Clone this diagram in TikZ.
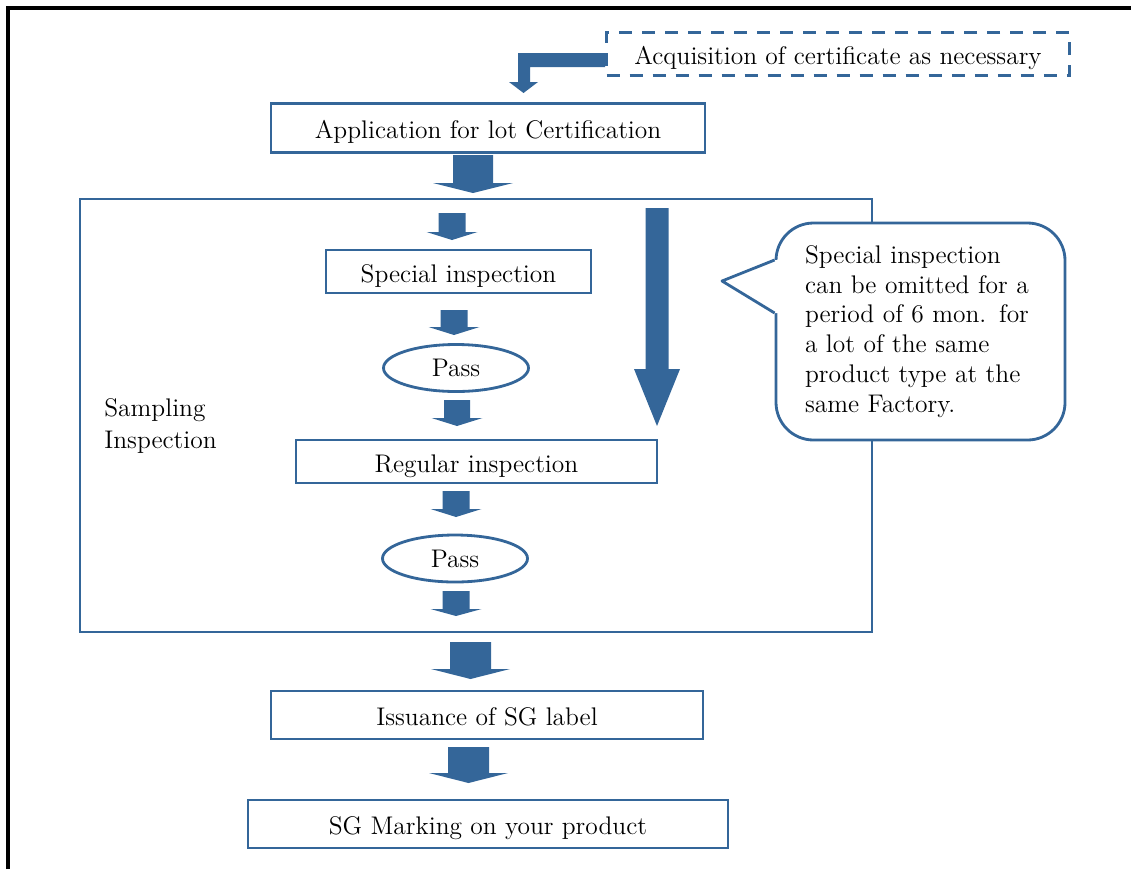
\documentclass[tikz,border=0pt]{standalone}
\usetikzlibrary{positioning, shapes.geometric}
\definecolor{sgblue}{RGB}{52,102,153}
\newcommand{\pu}{0.02cm}
% fat block arrow: x, top, head start, tip, half shaft, half head
\newcommand{\fatarrow}[6]{\fill[sgblue] (#1-#5,#2) -- (#1+#5,#2) -- (#1+#5,#3) -- (#1+#6,#3) -- (#1,#4) -- (#1-#6,#3) -- (#1-#5,#3) -- cycle;}

\begin{document}
\begin{tikzpicture}[x=\pu, y=-\pu,
        every node/.style={font=\fontsize{14.5}{17}\selectfont},
        box/.style={draw=sgblue, line width=1.6pt, fill=white, inner sep=0pt, text height=12pt, text depth=0pt, minimum height=48*\pu},
        passnode/.style={ellipse, draw=sgblue, line width=1.6pt, inner sep=0pt, minimum width=145*\pu, minimum height=47*\pu},
        ]
        \useasboundingbox (0,0) rectangle (1131,869);
        \draw[line width=2.2pt] (8,869) -- (8,8) -- (1131,8);

        \node[box, dashed, dash pattern=on 7.4pt off 5.7pt, minimum width=463*\pu, minimum height=43*\pu] (acq) at (838,54) {Acquisition of certificate as necessary};
        \node[box, minimum width=434*\pu, minimum height=49*\pu] (app) at (488,128) {Application for lot Certification};

        \node[draw=sgblue, line width=1.6pt, minimum width=792*\pu, minimum height=433*\pu] (sampling) at (476,415.5) {};
        \node[align=left, anchor=west, inner sep=0pt, font=\fontsize{14.5}{18}\selectfont] (samplabel) at (104,426) {Sampling\\Inspection};

        \node[box, minimum width=265*\pu, minimum height=43*\pu] (special) at (458.5,271.5) {Special inspection};
        \node[passnode] (pass1) at (456,368) {Pass};
        \node[box, minimum width=361*\pu, minimum height=43*\pu] (regular) at (476.5,461.5) {Regular inspection};
        \node[passnode] (pass2) at (455,558.5) {Pass};

        \node[box, minimum width=432*\pu, minimum height=48*\pu] (issue) at (487,715) {Issuance of SG label};
        \node[box, minimum width=480*\pu, minimum height=48*\pu] (marking) at (488,824) {SG Marking on your product};

        % callout
        \node[draw=sgblue, line width=1.6pt, fill=white, rounded corners=0.75cm, align=left, text width=231*\pu,
              minimum width=289*\pu, minimum height=217*\pu] (note) at (920.5,331.5)
              {Special inspection\\can be omitted for a\\period of 6 mon. for\\a lot of the same\\product type at the\\same Factory.};
        \fill[white] (note.west |- 0,260) -- (722,281) -- (note.west |- 0,313) -- ([xshift=2pt]note.west |- 0,313) -- ([xshift=2pt]note.west |- 0,260) -- cycle;
        \draw[sgblue, line width=1.6pt, line join=round] (note.west |- 0,260) -- (722,281) -- (note.west |- 0,313);

        % arrows
        \fill[sgblue] (acq.west |- 0,53) -- (518,53) -- (518,82) -- (509,82) -- (523.5,93) -- (538,82) -- (530,82) -- (530,67) -- (acq.west |- 0,67) -- cycle;
        \fatarrow{473}{155}{183}{193}{20}{40}
        \fatarrow{452}{213}{232}{240}{13.5}{25.5}
        \fatarrow{454}{310}{327}{335}{13.5}{25.5}
        \fatarrow{457}{400}{418}{426}{13}{25.5}
        \fatarrow{456}{491}{509}{517}{13.5}{25.5}
        \fatarrow{456}{591}{609}{616}{13.5}{25.5}
        \fatarrow{657}{208}{369}{426}{11.5}{23}
        \fatarrow{470.5}{642}{669}{679}{20.5}{39.5}
        \fatarrow{468.5}{747}{773}{783}{20.5}{39.5}
\end{tikzpicture}
\end{document}
